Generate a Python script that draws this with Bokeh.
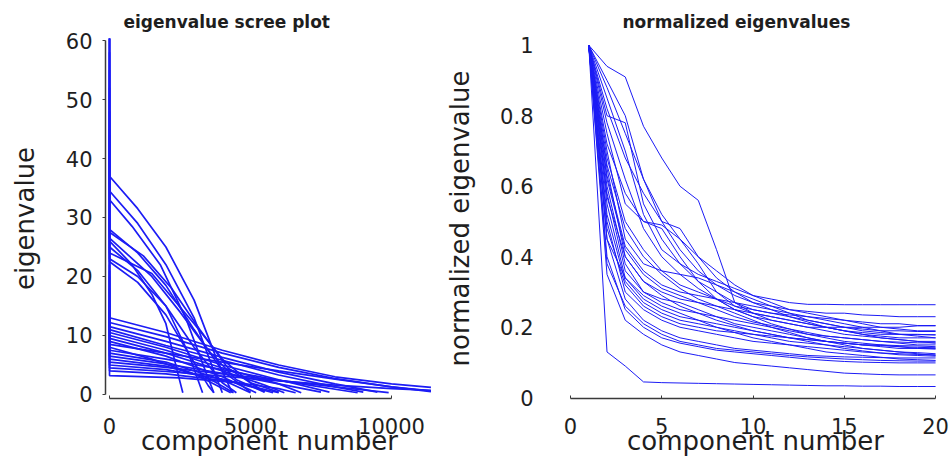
from bokeh.plotting import figure
from bokeh.layouts import row
from bokeh.models import Range1d, FixedTicker, CustomJSTickFormatter
from bokeh.embed import file_html
from bokeh.resources import INLINE

# ---------------- data: eigenvalue scree plot (breakpoints) ----------------
scree_x = [
    [0, 1, 1000, 2000, 3000, 3800, 4350],
    [0, 1, 1000, 2000, 3000, 3700, 4000],
    [0, 1, 800, 1800, 2700, 3400, 3700],
    [0, 1, 1000, 2000, 3000, 4000, 5000],
    [0, 1, 1200, 2200, 3200, 4200, 5500],
    [0, 1, 800, 1500, 2000, 2400, 2600],
    [0, 1, 1000, 2000, 2800, 3300],
    [0, 1, 1500, 3000, 4000, 5000, 6000],
    [0, 1, 1000, 2000, 3000, 4000, 4500],
    [0, 1, 1000, 2000, 2800, 3500, 3700],
    [0, 1, 1500, 2500, 3500, 4500, 5500],
    [0, 1, 2000, 4000, 6000, 8000, 10000, 11400],
    [0, 1, 2000, 4000, 6000, 8000, 10000, 11400],
    [0, 1, 2000, 4000, 6000, 8000, 9500],
    [0, 1, 2000, 4000, 6000, 8000, 9000],
    [0, 1, 2000, 4000, 6000, 7800],
    [0, 1, 2000, 4000, 6000, 6800],
    [0, 1, 2000, 4000, 5500, 6200],
    [0, 1, 2000, 4000, 5200],
    [0, 1, 2000, 4000, 6000, 8000, 10000, 11400],
    [0, 1, 1500, 3000, 4300],
    [0, 1, 2000, 4000, 6000, 8800],
    [0, 1, 2000, 4000, 5000],
    [0, 1, 2000, 4000, 6000, 7500],
    [0, 1, 2000, 3500, 4400],
    [0, 1, 2000, 4000, 6000, 8000, 9900],
    [0, 1, 2000, 4000, 5800],
    [0, 1, 2000, 4000, 6000, 8000, 10000, 11400],
    [0, 1, 2000, 4000, 6000, 6600],
    [0, 1, 2500, 4500, 6000],
]
scree_y = [
    [75, 37, 31.5, 25, 16, 6, 0.3],
    [70, 34.5, 29, 22, 13, 4, 0.3],
    [66, 33, 28.5, 22, 13, 4, 0.3],
    [62, 28, 24, 18.5, 11, 4, 0.4],
    [58, 27.5, 23.5, 18, 11, 4.5, 0.4],
    [52, 26, 22, 17, 12, 4, 0.3],
    [48, 25, 21, 15, 7, 0.3],
    [45, 24, 20.5, 12, 6, 2, 0.4],
    [44, 23, 20, 15, 8, 2, 0.3],
    [40, 22.5, 19, 13.5, 7, 1.5, 0.3],
    [55, 26.5, 20, 14, 7.5, 2.5, 0.4],
    [30, 13, 10.5, 7.5, 5, 3, 1.8, 1.2],
    [28, 12.2, 9.8, 7, 4.6, 2.7, 1.3, 0.6],
    [26, 11.5, 9, 6.3, 3.8, 1.8, 0.4],
    [22, 11, 8.3, 5.8, 3.3, 1.3, 0.4],
    [25, 10.5, 8, 5, 2.5, 0.4],
    [20, 10, 7.5, 4.5, 1.8, 0.3],
    [18, 9.5, 7, 4, 1.6, 0.3],
    [21, 9, 6.5, 3, 0.3],
    [16, 8.5, 7, 5.5, 4, 2.6, 1.3, 0.5],
    [15, 8, 6, 3.5, 0.3],
    [14, 7.5, 6, 4.2, 2.4, 0.3],
    [13, 7, 5.5, 2.5, 0.3],
    [12, 6.5, 5.2, 3.6, 1.8, 0.4],
    [11, 6, 4.8, 2.8, 0.3],
    [10, 5.5, 4.6, 3.5, 2.4, 1.3, 0.3],
    [9, 5, 4.2, 2.6, 0.3],
    [8, 4.5, 3.9, 3.1, 2.3, 1.6, 1.0, 0.7],
    [7, 4, 3.5, 2.4, 1, 0.3],
    [6, 3.2, 2.8, 2.0, 0.3],
]

# ---------------- data: normalized eigenvalues, components 1..20 ----------------
components = [1, 2, 3, 4, 5, 6, 7, 8, 9, 10, 11, 12, 13, 14, 15, 16, 17, 18, 19, 20]
norm_vals = [
    [1, .94, .91, .77, .68, .60, .56, .42, .27, .24, .23, .22, .21, .20, .19, .18, .17, .165, .16, .155],
    [1, .80, .78, .55, .45, .38, .33, .30, .27, .25, .24, .23, .22, .21, .20, .19, .185, .18, .18, .178],
    [1, .88, .75, .62, .50, .42, .36, .32, .29, .27, .26, .25, .245, .24, .24, .235, .233, .23, .23, .23],
    [1, .85, .70, .52, .42, .38, .35, .33, .31, .29, .28, .27, .265, .265, .264, .264, .264, .264, .264, .264],
    [1, .75, .55, .50, .48, .40, .33, .28, .25, .23, .22, .21, .20, .20, .20, .20, .20, .20, .204, .204],
    [1, .70, .45, .38, .36, .35, .34, .32, .30, .28, .26, .24, .22, .21, .20, .195, .19, .19, .188, .188],
    [1, .65, .40, .33, .30, .28, .27, .26, .25, .24, .23, .22, .21, .20, .19, .185, .18, .18, .179, .179],
    [1, .60, .38, .30, .27, .25, .24, .23, .22, .21, .20, .19, .18, .175, .17, .165, .16, .158, .156, .156],
    [1, .55, .34, .28, .25, .23, .22, .21, .20, .19, .18, .17, .165, .16, .155, .15, .148, .145, .143, .142],
    [1, .50, .30, .25, .22, .20, .19, .18, .17, .16, .155, .15, .145, .14, .135, .13, .127, .125, .123, .122],
    [1, .45, .28, .22, .19, .17, .16, .15, .14, .135, .13, .125, .12, .118, .116, .115, .114, .113, .113, .113],
    [1, .40, .25, .20, .17, .155, .145, .135, .13, .125, .12, .115, .11, .106, .103, .101, .10, .099, .099, .099],
    [1, .35, .22, .18, .15, .13, .12, .11, .10, .095, .09, .085, .08, .075, .07, .068, .066, .065, .065, .065],
    [1, .13, .09, .045, .043, .042, .041, .040, .039, .038, .037, .036, .035, .034, .034, .033, .033, .032, .032, .032],
    [1, .72, .58, .50, .49, .45, .38, .30, .26, .24, .22, .21, .20, .19, .18, .175, .17, .165, .16, .16],
    [1, .68, .50, .42, .36, .32, .30, .28, .26, .25, .24, .235, .23, .225, .22, .215, .21, .21, .205, .205],
    [1, .62, .42, .35, .31, .29, .27, .25, .23, .215, .205, .195, .185, .175, .17, .165, .16, .155, .15, .15],
    [1, .58, .36, .30, .28, .27, .25, .23, .21, .20, .19, .18, .17, .16, .155, .15, .145, .14, .14, .138],
    [1, .52, .33, .27, .24, .22, .21, .20, .19, .18, .17, .16, .155, .15, .145, .14, .135, .13, .128, .125],
    [1, .48, .32, .26, .23, .21, .20, .19, .185, .18, .175, .17, .165, .16, .155, .15, .15, .148, .147, .145],
    [1, .66, .48, .40, .35, .31, .28, .26, .24, .22, .20, .185, .17, .16, .15, .14, .135, .13, .125, .12],
    [1, .78, .62, .48, .40, .35, .31, .28, .25, .23, .21, .195, .18, .17, .16, .155, .15, .145, .14, .14],
    [1, .82, .68, .58, .50, .48, .40, .34, .30, .27, .25, .23, .215, .20, .19, .18, .175, .17, .17, .17],
    [1, .90, .80, .62, .52, .45, .40, .36, .32, .29, .27, .25, .24, .23, .22, .21, .20, .195, .19, .19],
    [1, .57, .40, .33, .29, .26, .24, .22, .205, .19, .18, .17, .16, .15, .14, .133, .127, .122, .12, .118],
    [1, .45, .34, .29, .26, .24, .22, .20, .185, .17, .16, .15, .14, .13, .125, .12, .115, .11, .108, .106],
    [1, .38, .26, .21, .18, .16, .15, .14, .135, .13, .125, .12, .116, .113, .11, .108, .106, .105, .104, .104],
    [1, .63, .43, .36, .32, .30, .29, .28, .27, .26, .25, .24, .23, .22, .21, .20, .19, .18, .175, .17],
]

left_xticks = [0, 5000, 10000]
left_yticks = [0, 10, 20, 30, 40, 50, 60]
right_xticks = [0, 5, 10, 15, 20]
right_yticks = [0, 0.2, 0.4, 0.6, 0.8, 1]

LINE = "#1c1cf5"
TXT = "#1e1e1e"
AX = "#3a3a3a"
FONT = "DejaVu Sans"


def style(p, title_offset):
    p.grid.visible = False
    p.outline_line_color = None
    p.background_fill_color = "white"
    p.border_fill_color = "white"
    p.title.text_font = FONT
    p.title.text_font_size = "17px"
    p.title.text_font_style = "bold"
    p.title.text_color = TXT
    p.title.align = "left"
    p.title.offset = title_offset
    p.title.standoff = 13
    for ax in p.axis:
        ax.axis_label_text_font = FONT
        ax.axis_label_text_font_size = "26px"
        ax.axis_label_text_font_style = "normal"
        ax.axis_label_text_color = TXT
        ax.major_label_text_font = FONT
        ax.major_label_text_font_size = "21px"
        ax.major_label_text_color = TXT
        ax.axis_line_color = AX
        ax.axis_line_width = 1.5
        ax.major_tick_line_color = AX
        ax.minor_tick_line_color = None


# ---------------- left panel ----------------
p1 = figure(width=440, height=463, output_backend="svg", toolbar_location=None,
            x_range=Range1d(-142, 11490), y_range=Range1d(-0.68, 60.34),
            min_border_left=105, min_border_right=7, min_border_top=38, min_border_bottom=65,
            title="eigenvalue scree plot")
p1.multi_line(xs=scree_x, ys=scree_y, line_color=LINE, line_width=1.7)
style(p1, 18)
p1.xaxis.ticker = FixedTicker(ticks=left_xticks)
p1.yaxis.ticker = FixedTicker(ticks=left_yticks)
p1.xaxis.bounds = (0, 10000)
p1.yaxis.bounds = (0, 60)
p1.xaxis.axis_label = "component number"
p1.yaxis.axis_label = "eigenvalue"
p1.xaxis.major_tick_in = 3
p1.xaxis.major_tick_out = 0
p1.yaxis.major_tick_in = 0
p1.yaxis.major_tick_out = 3
p1.xaxis.major_label_standoff = 19
p1.xaxis.axis_label_standoff = -11
p1.yaxis.major_label_standoff = 10
p1.yaxis.axis_label_standoff = 23

# ---------------- right panel ----------------
p2 = figure(width=511, height=463, output_backend="svg", toolbar_location=None,
            x_range=Range1d(0, 20.27), y_range=Range1d(-0.002, 1.019),
            min_border_left=130, min_border_right=11, min_border_top=38, min_border_bottom=65,
            title="normalized eigenvalues")
p2.multi_line(xs=[components] * len(norm_vals), ys=norm_vals, line_color=LINE, line_width=1.0)
style(p2, 52)
p2.xaxis.ticker = FixedTicker(ticks=right_xticks)
p2.yaxis.ticker = FixedTicker(ticks=right_yticks)
p2.yaxis.formatter = CustomJSTickFormatter(code="return String(Math.round(tick*10)/10);")
p2.xaxis.bounds = (0, 20)
p2.xaxis.axis_label = "component number"
p2.yaxis.axis_label = "normalized eigenvalue"
p2.xaxis.major_tick_in = 3
p2.xaxis.major_tick_out = 0
p2.yaxis.axis_line_color = None
p2.yaxis.major_tick_line_color = None
p2.yaxis.major_tick_out = 0
p2.yaxis.major_tick_in = 0
p2.xaxis.major_label_standoff = 19
p2.xaxis.axis_label_standoff = -11
p2.yaxis.major_label_standoff = 37
p2.yaxis.axis_label_standoff = 22

layout = row(p1, p2)
open("out.html", "w").write(file_html(layout, INLINE))
